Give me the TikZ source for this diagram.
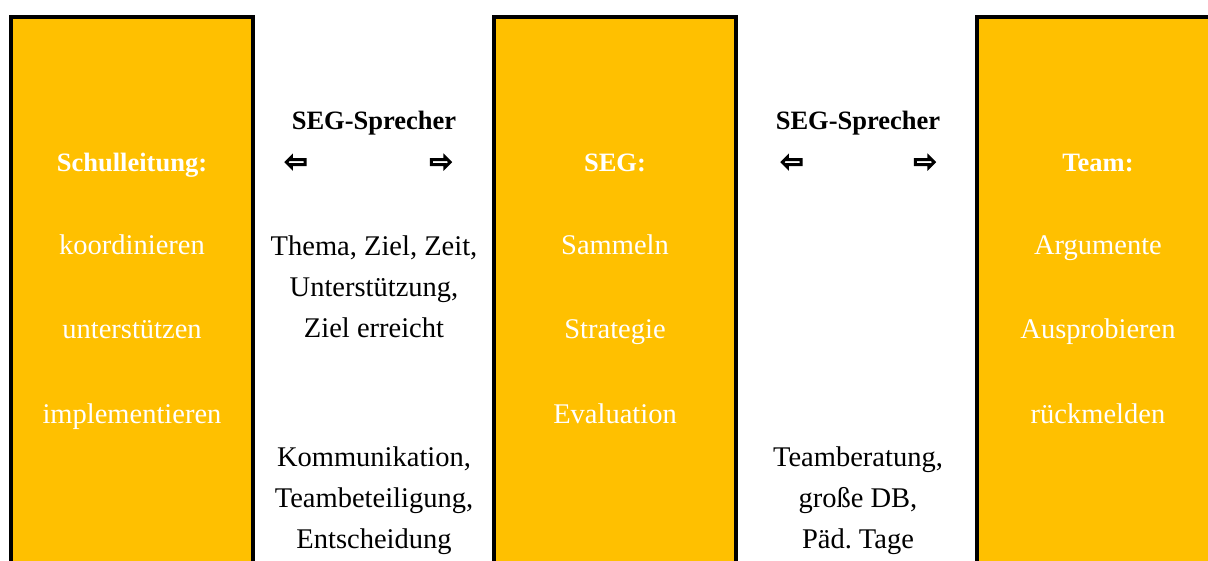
\documentclass[tikz,border=0pt]{standalone}
\usepackage{fontspec}
\setmainfont{Liberation Serif}
\newfontfamily\arrowfont[FakeBold=6]{DejaVu Sans}
\definecolor{colgold}{HTML}{FFC000}
\frenchspacing
\tikzset{
  column/.style={draw=black,line width=4pt,fill=colgold,minimum width=242pt,minimum height=620pt,anchor=north,inner sep=0pt},
  coltext/.style={text=white,font=\fontsize{28.5}{41}\selectfont,text height=26pt,text depth=6pt,inner sep=0pt},
  colhead/.style={coltext,font=\fontsize{26.5}{41}\selectfont\bfseries,text height=25pt},
  midtext/.style={text=black,font=\fontsize{28.5}{41}\selectfont,align=center},
  midhead/.style={midtext,font=\fontsize{26.5}{41}\selectfont\bfseries,text height=25pt,text depth=6pt,inner sep=0pt},
  arrowsym/.style={font=\arrowfont\fontsize{27}{27}\selectfont,inner sep=0pt},
}
\begin{document}
\begin{tikzpicture}[x=1pt,y=-1pt]
\useasboundingbox (0,0) rectangle (1208,561);
\clip (0,0) rectangle (1208,561);
%% columns
\node[column] (schul) at (132,15) {};
\node[column] (seg) at (615,15) {};
\node[column] (team) at (1098,15) {};
%% texts in the columns
\node[colhead] (schulhead) at (132,162) {Schulleitung:};
\node[coltext] (schulA) at (132,245) {koordinieren};
\node[coltext] (schulB) at (132,329) {unterstützen};
\node[coltext] (schulC) at (132,413) {implementieren};
\node[colhead] (seghead) at (615,162) {SEG:};
\node[coltext] (segA) at (615,245) {Sammeln};
\node[coltext] (segB) at (615,329) {Strategie};
\node[coltext] (segC) at (615,413) {Evaluation};
\node[colhead] (teamhead) at (1098,162) {Team:};
\node[coltext] (teamA) at (1098,245) {Argumente};
\node[coltext] (teamB) at (1098,329) {Ausprobieren};
\node[coltext] (teamC) at (1098,413) {rückmelden};
%% between the columns
\node[midhead] (sprecherL) at (374,120) {SEG-Sprecher};
\node[arrowsym] (arrLl) at (296,163) {⇦};
\node[arrowsym] (arrLr) at (441,163) {⇨};
\node[midtext] (aufgabenL) at (374,287) {Thema, Ziel, Zeit,\\Unterstützung,\\Ziel erreicht};
\node[midtext] (mittelL) at (374,501) {Kommunikation,\\Teambeteiligung,\\Entscheidung};
\node[midhead] (sprecherR) at (858,120) {SEG-Sprecher};
\node[arrowsym] (arrRl) at (792,163) {⇦};
\node[arrowsym] (arrRr) at (925,163) {⇨};
\node[midtext] (mittelR) at (858,501) {Teamberatung,\\große DB,\\Päd. Tage};
\end{tikzpicture}
\end{document}
